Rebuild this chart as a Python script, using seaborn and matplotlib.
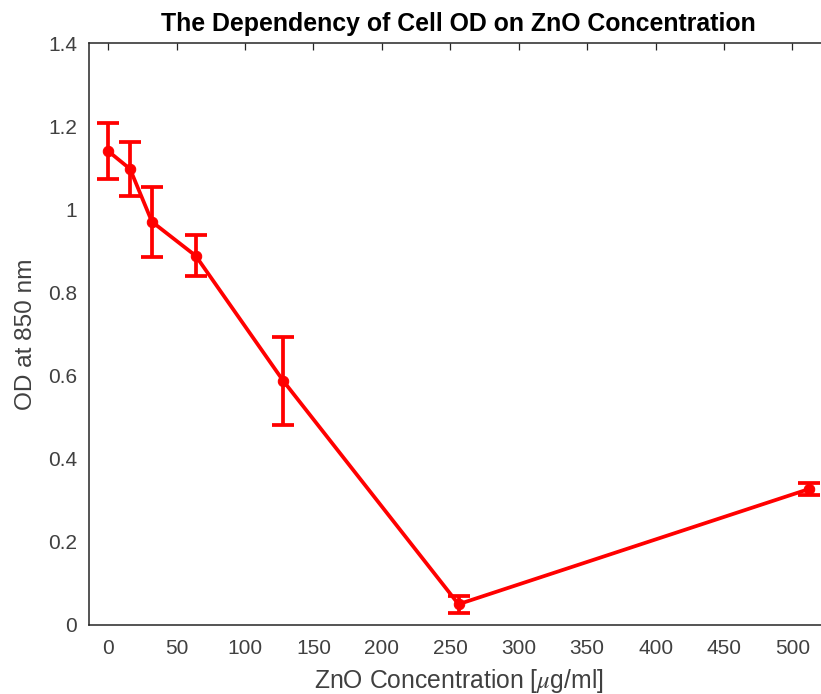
import matplotlib
matplotlib.use("Agg")
import matplotlib.pyplot as plt
import seaborn as sns
import pandas as pd

# Measured optical density at 850 nm versus ZnO concentration
concentration = [0, 16, 32, 64, 128, 256, 512]
od_mean = [1.140, 1.097, 0.970, 0.888, 0.587, 0.050, 0.327]
od_err = [0.068, 0.064, 0.084, 0.049, 0.105, 0.020, 0.015]

x_ticks = [0, 50, 100, 150, 200, 250, 300, 350, 400, 450, 500]
y_ticks = [0, 0.2, 0.4, 0.6, 0.8, 1.0, 1.2, 1.4]
y_tick_labels = ["0", "0.2", "0.4", "0.6", "0.8", "1", "1.2", "1.4"]

sns.set_theme(style="white")
plt.rcParams["font.family"] = ["Liberation Sans", "DejaVu Sans"]
plt.rcParams["mathtext.fontset"] = "stix"

df = pd.DataFrame({"conc": concentration, "od": od_mean, "err": od_err})

fig = plt.figure(figsize=(8.21, 6.94), dpi=100)
W, H = 821, 694
left, right, top, bottom = 89, 828, 43, 625
ax = fig.add_axes([left / W, 1 - bottom / H, (right - left) / W, (bottom - top) / H])

axis_col = "#404040"
red = "#ff0000"

ax.errorbar(df["conc"], df["od"], yerr=df["err"], fmt="none", ecolor=red,
            elinewidth=2.7, capsize=8, capthick=2.7, zorder=3)
sns.lineplot(data=df, x="conc", y="od", ax=ax, color=red, linewidth=2.7,
             marker="o", markersize=7.5, markeredgecolor=red, zorder=4)

ax.set_xlim(-14, 526)
ax.set_ylim(0, 1.4)
ax.set_xticks(x_ticks)
ax.set_xticklabels([str(t) for t in x_ticks])
ax.set_yticks(y_ticks)
ax.set_yticklabels(y_tick_labels)

for s in ax.spines.values():
    s.set_color("#262626")
    s.set_linewidth(1.1)
ax.tick_params(direction="in", length=5, width=0.9, colors="#262626",
               labelsize=15, top=True, right=True)
ax.tick_params(axis="x", pad=10)
ax.tick_params(axis="y", pad=8.5)
for lab in ax.get_xticklabels() + ax.get_yticklabels():
    lab.set_color(axis_col)

ax.set_xlabel(r"ZnO Concentration [$\mu$g/ml]", fontsize=17.8, color=axis_col)
ax.set_ylabel("OD at 850 nm", fontsize=17.6, color=axis_col)
ax.xaxis.set_label_coords(0.5, (625 - 667) / 582)
ax.yaxis.set_label_coords((37 - 89) / 739, 0.5)
ax.set_title("The Dependency of Cell OD on ZnO Concentration", fontsize=17.9,
             fontweight="bold", color="black", pad=9)

fig.savefig("out.png", dpi=100)
